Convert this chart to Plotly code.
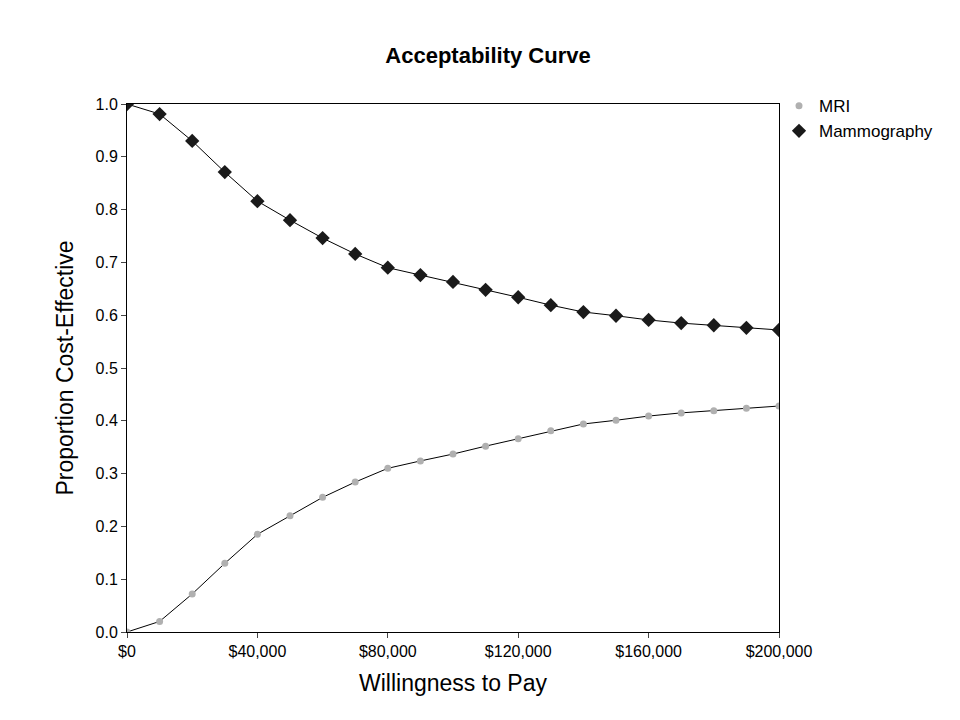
import plotly.graph_objects as go

wtp = [0, 10000, 20000, 30000, 40000, 50000, 60000, 70000, 80000, 90000, 100000,
       110000, 120000, 130000, 140000, 150000, 160000, 170000, 180000, 190000, 200000]
mammo = [1.0, 0.981, 0.930, 0.871, 0.816, 0.780, 0.746, 0.716, 0.690, 0.676, 0.663,
         0.648, 0.634, 0.619, 0.606, 0.599, 0.591, 0.585, 0.581, 0.576, 0.572]
mri = [0.0, 0.02, 0.072, 0.13, 0.185, 0.22, 0.255, 0.284, 0.31, 0.324, 0.337,
       0.352, 0.366, 0.381, 0.394, 0.401, 0.409, 0.415, 0.419, 0.424, 0.428]
xticks = [0, 40000, 80000, 120000, 160000, 200000]
xlabels = ["$0", "$40,000", "$80,000", "$120,000", "$160,000", "$200,000"]

fig = go.Figure()
fig.add_trace(go.Scatter(x=wtp, y=mri, mode="lines", line=dict(color="black", width=1),
                         showlegend=False, hoverinfo="skip"))
fig.add_trace(go.Scatter(x=wtp, y=mammo, mode="lines", line=dict(color="black", width=1),
                         showlegend=False, hoverinfo="skip"))
fig.add_trace(go.Scatter(x=wtp, y=mri, mode="markers", name="MRI",
                         marker=dict(symbol="circle", size=7, color="#b0b0b0")))
fig.add_trace(go.Scatter(x=wtp, y=mammo, mode="markers", name="Mammography",
                         marker=dict(symbol="diamond", size=11, color="#1a1a1a")))

fig.update_layout(
    width=960, height=720,
    paper_bgcolor="white", plot_bgcolor="white",
    font=dict(family="Liberation Sans, Arial", size=16, color="black"),
    title=dict(text="<b>Acceptability Curve</b>", x=0.5, xanchor="center", y=0.945,
               font=dict(size=22)),
    margin=dict(l=119, r=189, t=96, b=96),
    legend=dict(x=1.0, y=1.03, xanchor="left", yanchor="top", bgcolor="rgba(0,0,0,0)",
                font=dict(size=17)),
    xaxis=dict(range=[0, 200000], tickvals=xticks, ticktext=xlabels, ticks="outside",
               ticklen=5, showgrid=False, zeroline=False, showline=True, linecolor="black",
               mirror=True, title=dict(text="Willingness to Pay", font=dict(size=23))),
    yaxis=dict(range=[0, 1], dtick=0.1, tickformat=".1f", ticks="outside", ticklen=5,
               showgrid=False, zeroline=False, showline=True, linecolor="black",
               mirror=True, title=dict(text="Proportion Cost-Effective", font=dict(size=23))),
)

fig.write_html("out.html")
